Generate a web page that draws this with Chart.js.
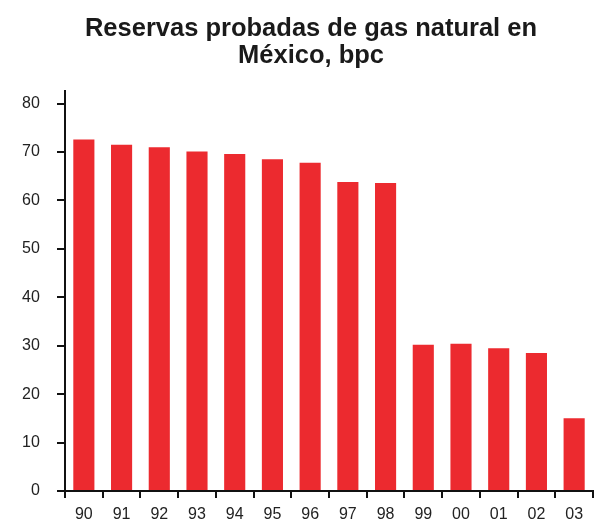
<!DOCTYPE html>
<html>
<head>
<meta charset="utf-8">
<script src="https://cdn.jsdelivr.net/npm/chart.js@4"></script>
<style>
    html, body { margin: 0; padding: 0; background: #fff; }
    #wrap { width: 596px; height: 524px; }
</style>
</head>
<body>
<div id="wrap"><canvas id="gas-chart"></canvas></div>
<script>
const years = ['90', '91', '92', '93', '94', '95', '96', '97', '98', '99', '00', '01', '02', '03'];
const reserves = [72.6, 71.5, 71.0, 70.1, 69.6, 68.5, 67.8, 63.8, 63.6, 30.2, 30.4, 29.5, 28.5, 15.0];
const yTicks = [0, 10, 20, 30, 40, 50, 60, 70, 80];

const ctx = document.getElementById('gas-chart');
const tickFont = { family: 'Liberation Sans, Arial, sans-serif', size: 16 };

new Chart(ctx, {
    type: 'bar',
    data: {
        labels: years,
        datasets: [{
            data: reserves,
            backgroundColor: '#ec2a2f',
            borderWidth: 0,
            categoryPercentage: 0.56,
            barPercentage: 1
        }]
    },
    options: {
        responsive: true,
        maintainAspectRatio: false,
        animation: false,
        layout: {
            padding: { left: 29, right: 3, top: 0, bottom: 0 }
        },
        plugins: {
            legend: { display: false },
            tooltip: { enabled: false },
            title: {
                display: true,
                text: ['Reservas probadas de gas natural en', 'México, bpc'],
                color: '#1a1a1a',
                font: {
                    family: 'Liberation Sans, Arial, sans-serif',
                    size: 25.5,
                    weight: 'bold',
                    lineHeight: 1.05
                },
                padding: { top: 16, bottom: 21 }
            }
        },
        scales: {
            y: {
                min: 0,
                max: 82.7,
                afterBuildTicks: scale => {
                    scale.ticks = yTicks.map(v => ({ value: v }));
                },
                afterFit: scale => {
                    scale.width = 36;
                },
                ticks: {
                    // mirrored so the labels are not clipped to the narrow axis box
                    mirror: true,
                    crossAlign: 'far',
                    padding: -43,
                    color: '#222',
                    font: tickFont
                },
                grid: {
                    drawOnChartArea: false,
                    drawTicks: true,
                    tickLength: 8,
                    color: '#111',
                    lineWidth: 2
                },
                border: { display: true, color: '#111', width: 2 }
            },
            x: {
                afterFit: scale => {
                    scale.height = 33;
                },
                ticks: {
                    padding: 7,
                    color: '#222',
                    font: tickFont
                },
                grid: {
                    offset: true,
                    drawOnChartArea: false,
                    drawTicks: true,
                    tickLength: 7,
                    color: '#111',
                    lineWidth: 2
                },
                border: { display: true, color: '#111', width: 2 }
            }
        }
    }
});
</script>
</body>
</html>
